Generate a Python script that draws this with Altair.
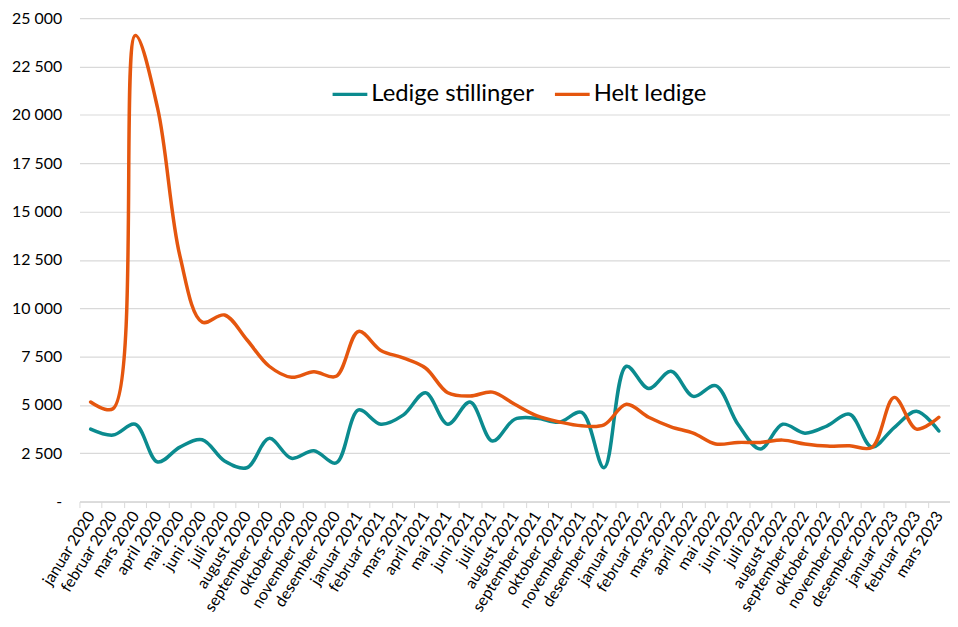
import altair as alt
import pandas as pd

months = [
    "januar 2020", "februar 2020", "mars 2020", "april 2020", "mai 2020", "juni 2020",
    "juli 2020", "august 2020", "september 2020", "oktober 2020", "november 2020", "desember 2020",
    "januar 2021", "februar 2021", "mars 2021", "april 2021", "mai 2021", "juni 2021",
    "juli 2021", "august 2021", "september 2021", "oktober 2021", "november 2021", "desember 2021",
    "januar 2022", "februar 2022", "mars 2022", "april 2022", "mai 2022", "juni 2022",
    "juli 2022", "august 2022", "september 2022", "oktober 2022", "november 2022", "desember 2022",
    "januar 2023", "februar 2023", "mars 2023",
]

ledige_stillinger = [
    3750, 3440, 4000, 2050, 2820, 3200, 2100, 1750, 3270, 2240, 2630, 2000,
    4740, 4000, 4470, 5630, 4000, 5150, 3130, 4260, 4310, 4110, 4620, 1750,
    7000, 5850, 6740, 5440, 6000, 4000, 2720, 4000, 3540, 3920, 4520, 2820,
    3830, 4670, 3650,
]

helt_ledige = [
    5150, 4800, 24110, 20350, 12700, 9280, 9650, 8370, 7000, 6430, 6710, 6480,
    8800, 7820, 7430, 6910, 5630, 5460, 5660, 5030, 4430, 4120, 3920, 3970,
    5030, 4360, 3870, 3540, 2980, 3060, 3060, 3180, 2980, 2870, 2890, 2800,
    5390, 3750, 4360,
]

series_names = ["Ledige stillinger", "Helt ledige"]
series_colors = ["#0B8B8F", "#E5560E"]

rows = []
for i, m in enumerate(months):
    rows.append({"maaned": m, "serie": series_names[0], "verdi": ledige_stillinger[i], "idx": i})
    rows.append({"maaned": m, "serie": series_names[1], "verdi": helt_ledige[i], "idx": i})
df = pd.DataFrame(rows)

FONT = "Lato"

chart = (
    alt.Chart(df)
    .mark_line(interpolate="catmull-rom", strokeWidth=3.5, strokeCap="round")
    .encode(
        x=alt.X(
            "maaned:N",
            sort=months,
            title=None,
            scale=alt.Scale(paddingInner=0, paddingOuter=0),
            axis=alt.Axis(
                labelAngle=-58,
                labelAlign="right",
                labelBaseline="middle",
                labelFont=FONT,
                labelFontSize=16,
                labelColor="#000000",
                labelOverlap=False,
                labelPadding=5,
                tickBand="extent",
                tickColor="#D9D9D9",
                tickSize=6,
                domainColor="#D9D9D9",
                domainWidth=1.5,
                grid=False,
            ),
        ),
        y=alt.Y(
            "verdi:Q",
            title=None,
            scale=alt.Scale(domain=[0, 25000], nice=False),
            axis=alt.Axis(
                values=list(range(0, 25001, 2500)),
                labelExpr="datum.value == 0 ? '-' : replace(format(datum.value, ','), ',', ' ')",
                labelFont=FONT,
                labelFontSize=16,
                labelColor="#000000",
                labelPadding=18,
                ticks=False,
                domain=False,
                grid=True,
                gridColor="#D9D9D9",
                gridWidth=1.2,
            ),
        ),
        color=alt.Color(
            "serie:N",
            sort=series_names,
            scale=alt.Scale(domain=series_names, range=series_colors),
            legend=alt.Legend(
                title=None,
                orient="none",
                legendX=253,
                legendY=57,
                direction="horizontal",
                symbolType="stroke",
                symbolSize=1225,
                symbolStrokeWidth=3.5,
                labelFont=FONT,
                labelFontSize=24,
                labelColor="#000000",
                labelOffset=2,
                columnPadding=14,
                labelLimit=400,
            ),
        ),
        detail="serie:N",
    )
    .properties(
        width=877,
        height=487,
        autosize=alt.AutoSizeParams(type="none"),
        padding={"left": 72, "top": 8, "right": 0, "bottom": 116},
    )
    .configure_view(stroke=None)
)

chart.save("out.html", embed_options={"renderer": "svg", "actions": False})
